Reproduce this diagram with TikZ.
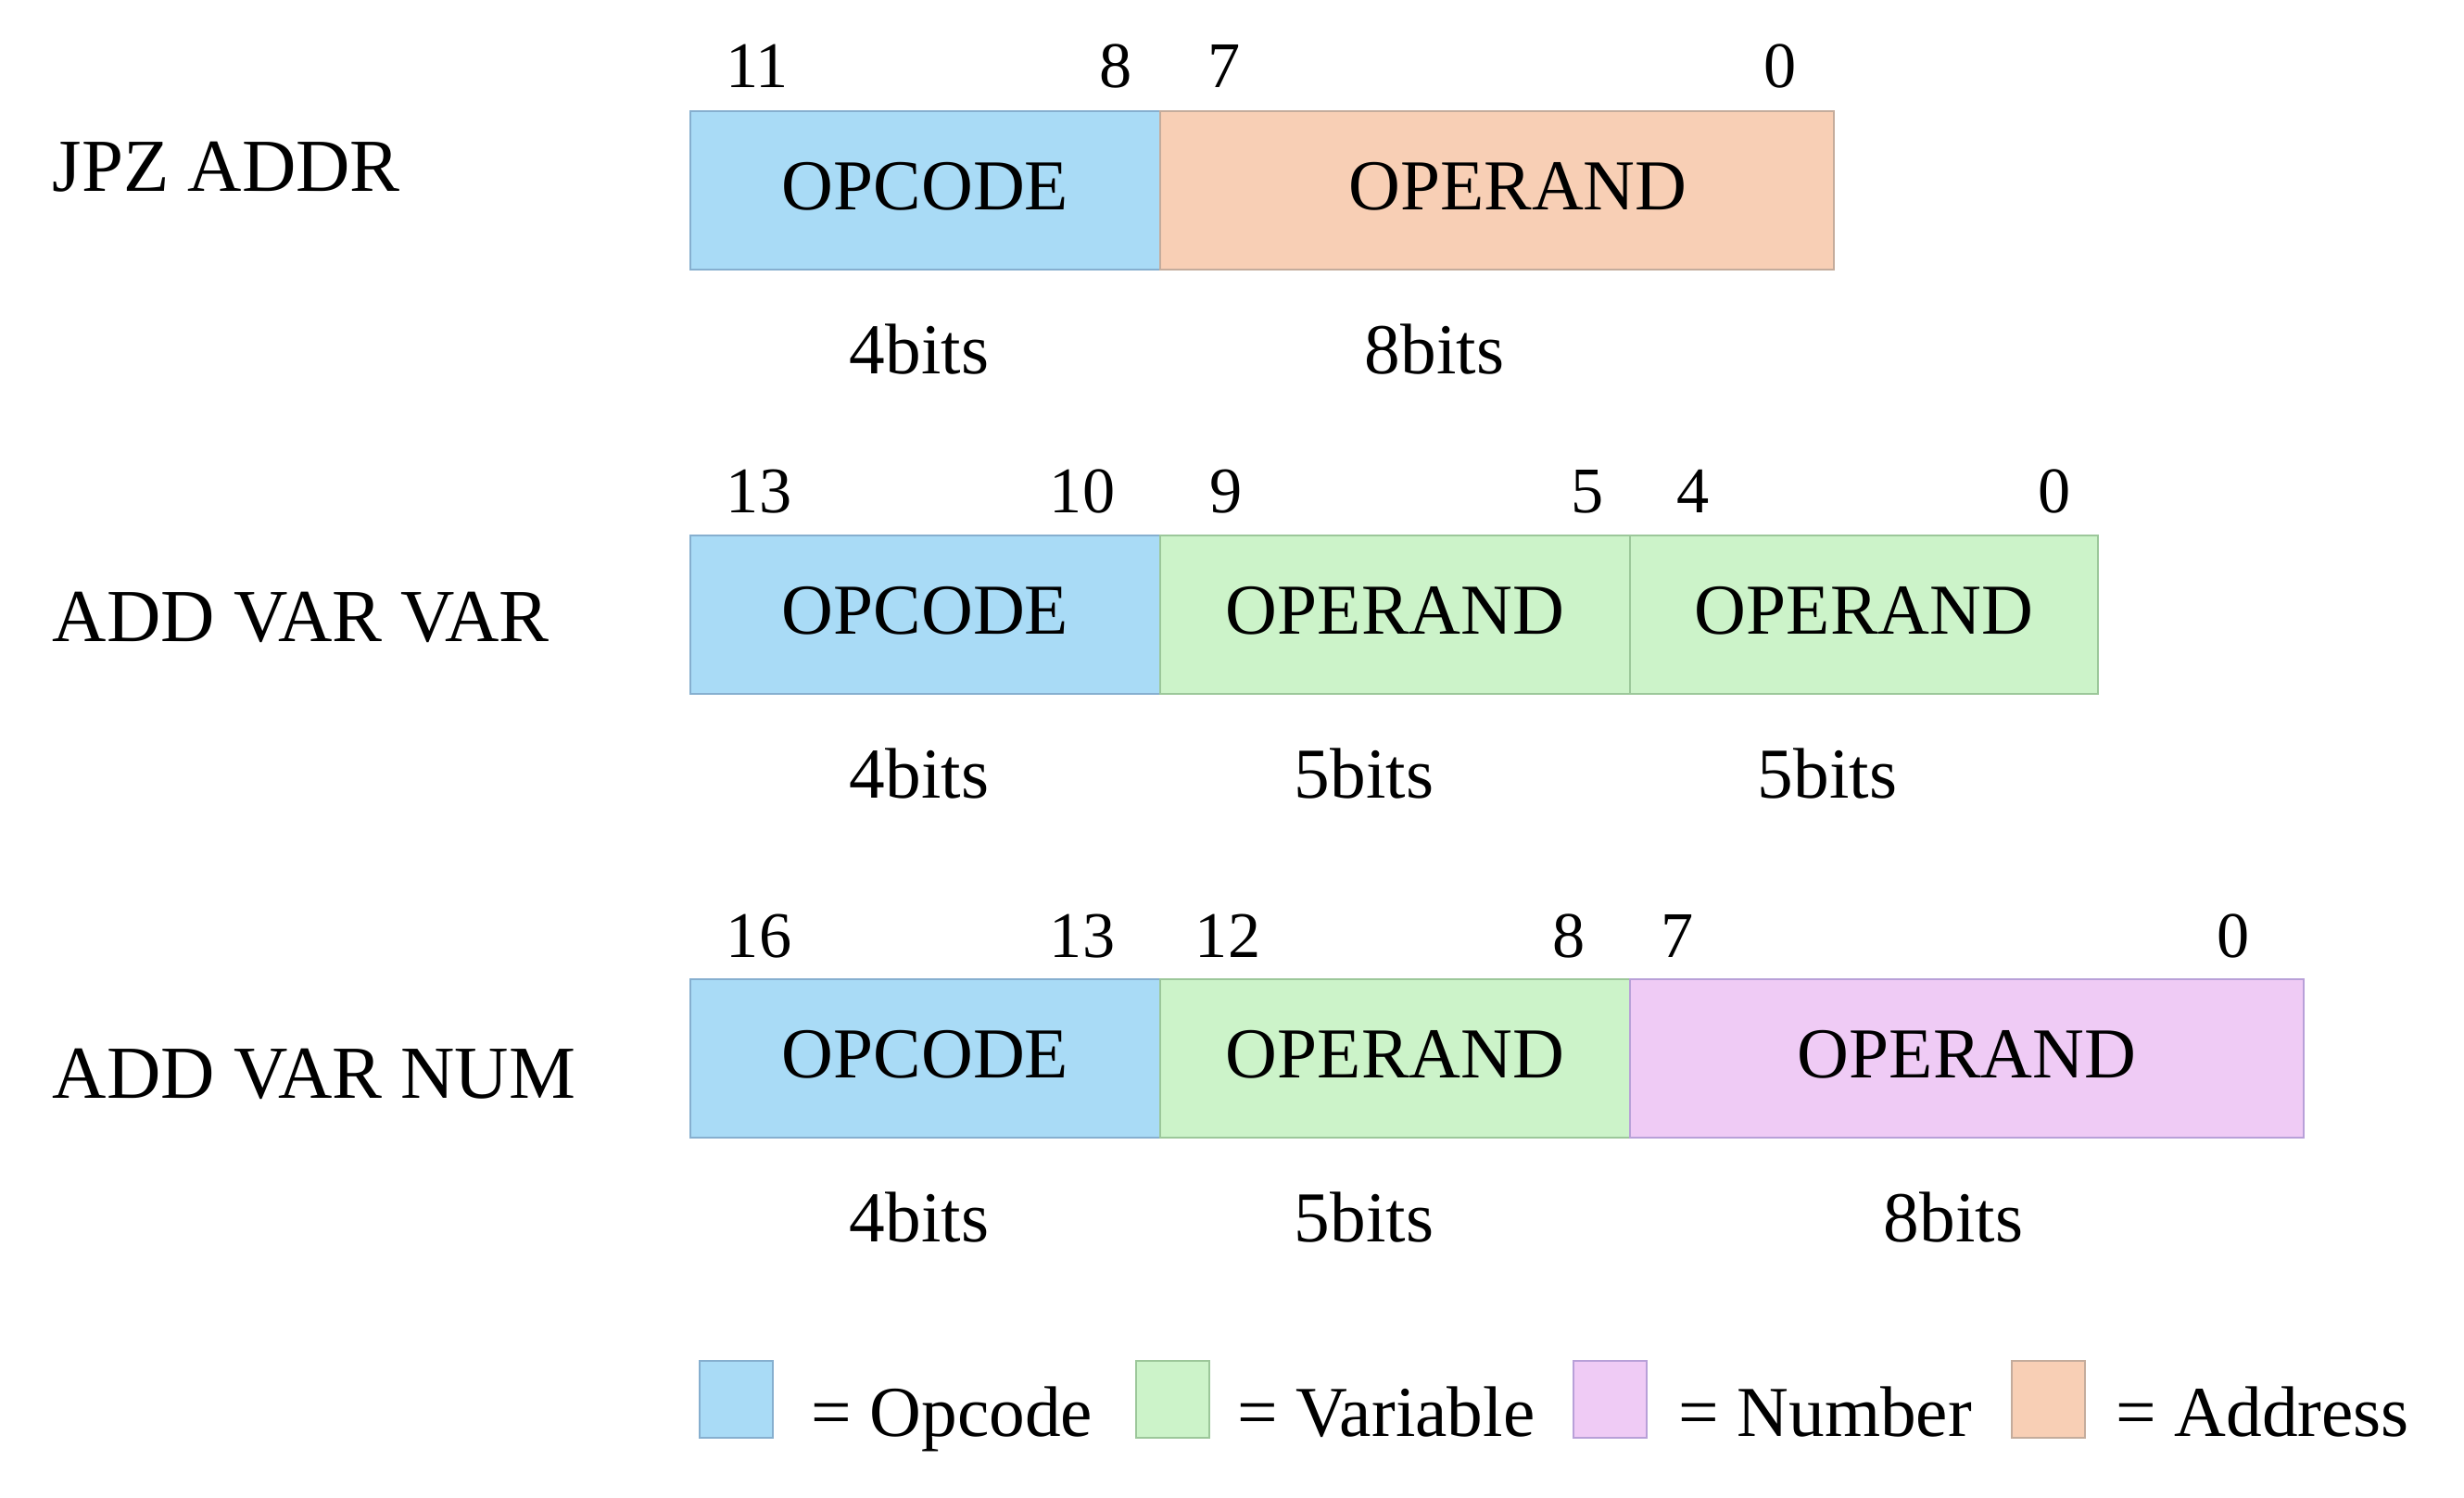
\documentclass[tikz,border=0pt]{standalone}
\usepackage{fontspec}
\setmainfont{Liberation Serif}
\usetikzlibrary{positioning}

\definecolor{opcblue}{HTML}{A9DBF6}
\definecolor{opcline}{HTML}{86AFCF}
\definecolor{vargreen}{HTML}{CCF3C9}
\definecolor{varline}{HTML}{9CC79A}
\definecolor{numpink}{HTML}{EFCBF5}
\definecolor{numline}{HTML}{B8A0D8}
\definecolor{addrpeach}{HTML}{F8CFB5}
\definecolor{addrline}{HTML}{C4AC9C}

\begin{document}
\begin{tikzpicture}[x=1cm,y=-1cm,
    field/.style={rectangle,line width=0.6pt,minimum height=1.71cm,inner sep=0pt,outer sep=0pt,text depth=0.1cm,font=\fontsize{22}{26}\selectfont},
    opfield/.style={field,fill=opcblue,draw=opcline},
    varfield/.style={field,fill=vargreen,draw=varline},
    numfield/.style={field,fill=numpink,draw=numline},
    addrfield/.style={field,fill=addrpeach,draw=addrline},
    bitnum/.style={anchor=base,inner sep=0pt,font=\fontsize{20}{24}\selectfont},
    bitlen/.style={anchor=base,inner sep=0pt,font=\fontsize{22}{26}\selectfont},
    instr/.style={anchor=base west,inner sep=0pt,font=\fontsize{23}{28}\selectfont},
    legtext/.style={anchor=base west,inner sep=0pt,font=\fontsize{22}{26}\selectfont}]

    \useasboundingbox (0,0) rectangle (26.59,16.17);

    % JPZ ADDR
    \node[instr] (jpz) at (0.56,2.07) {JPZ ADDR};
    \node[opfield,minimum width=5.07cm,anchor=north west] (jpzop) at (7.45,1.20) {OPCODE};
    \node[addrfield,minimum width=7.27cm,right=0pt of jpzop] (jpzarg) {\hspace{0.45cm}OPERAND};
    \node[bitnum] (jpz11) at (8.17,0.95) {11};
    \node[bitnum] (jpz8) at (12.04,0.95) {8};
    \node[bitnum] (jpz7) at (13.21,0.95) {7};
    \node[bitnum] (jpz0) at (19.21,0.95) {0};
    \node[bitlen] (jpzlen1) at (9.92,4.04) {4bits};
    \node[bitlen] (jpzlen2) at (15.48,4.04) {8bits};

    % ADD VAR VAR
    \node[instr] (avv) at (0.56,6.92) {ADD VAR VAR};
    \node[opfield,minimum width=5.07cm,anchor=north west] (avvop) at (7.45,5.78) {OPCODE};
    \node[varfield,minimum width=5.07cm,right=0pt of avvop] (avvarg1) {OPERAND};
    \node[varfield,minimum width=5.05cm,right=0pt of avvarg1] (avvarg2) {OPERAND};
    \node[bitnum] (avv13) at (8.19,5.53) {13};
    \node[bitnum] (avv10) at (11.68,5.53) {10};
    \node[bitnum] (avv9) at (13.23,5.53) {9};
    \node[bitnum] (avv5) at (17.13,5.53) {5};
    \node[bitnum] (avv4) at (18.27,5.53) {4};
    \node[bitnum] (avv0) at (22.17,5.53) {0};
    \node[bitlen] (avvlen1) at (9.92,8.61) {4bits};
    \node[bitlen] (avvlen2) at (14.72,8.61) {5bits};
    \node[bitlen] (avvlen3) at (19.72,8.61) {5bits};

    % ADD VAR NUM
    \node[instr] (avn) at (0.56,11.85) {ADD VAR NUM};
    \node[opfield,minimum width=5.07cm,anchor=north west] (avnop) at (7.45,10.57) {OPCODE};
    \node[varfield,minimum width=5.07cm,right=0pt of avnop] (avnarg1) {OPERAND};
    \node[numfield,minimum width=7.27cm,right=0pt of avnarg1] (avnarg2) {OPERAND};
    \node[bitnum] (avn16) at (8.19,10.33) {16};
    \node[bitnum] (avn13) at (11.68,10.33) {13};
    \node[bitnum] (avn12) at (13.25,10.33) {12};
    \node[bitnum] (avn8) at (16.93,10.33) {8};
    \node[bitnum] (avn7) at (18.10,10.33) {7};
    \node[bitnum] (avn0) at (24.10,10.33) {0};
    \node[bitlen] (avnlen1) at (9.92,13.40) {4bits};
    \node[bitlen] (avnlen2) at (14.72,13.40) {5bits};
    \node[bitlen] (avnlen3) at (21.08,13.40) {8bits};

    % legend
    \node[opfield,minimum width=0.79cm,minimum height=0.83cm,anchor=north west] (keyop) at (7.55,14.69) {};
    \node[legtext] (keyoptxt) at (8.75,15.50) {= Opcode};
    \node[varfield,minimum width=0.79cm,minimum height=0.83cm,anchor=north west] (keyvar) at (12.26,14.69) {};
    \node[legtext] (keyvartxt) at (13.35,15.50) {= Variable};
    \node[numfield,minimum width=0.79cm,minimum height=0.83cm,anchor=north west] (keynum) at (16.98,14.69) {};
    \node[legtext] (keynumtxt) at (18.11,15.50) {= Number};
    \node[addrfield,minimum width=0.79cm,minimum height=0.83cm,anchor=north west] (keyaddr) at (21.71,14.69) {};
    \node[legtext] (keyaddrtxt) at (22.83,15.50) {= Address};
\end{tikzpicture}
\end{document}
